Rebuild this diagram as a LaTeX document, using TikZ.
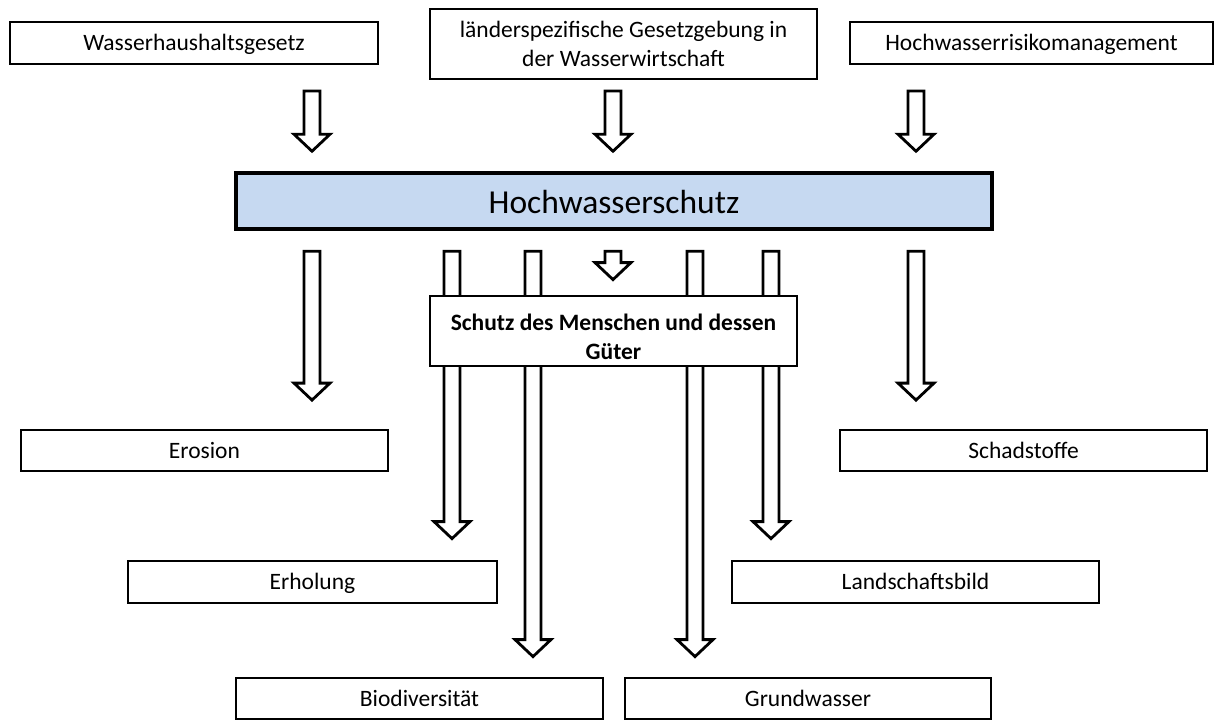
\documentclass[tikz,border=0pt]{standalone}
\usepackage{fontspec}
\setmainfont{Carlito}
\usetikzlibrary{calc}
\pgfdeclarelayer{bg}
\pgfsetlayers{bg,main}
\definecolor{hwsblue}{HTML}{C6D9F1}
\tikzset{
  box/.style={draw=black, line width=2.8pt, fill=white, inner sep=0pt,
    align=center, font=\fontsize{23.5}{28.5}\selectfont},
  onebox/.style={box, text height=18pt, text depth=3pt},
  mainbox/.style={box, line width=3.5pt, fill=hwsblue,
    text height=27pt, text depth=3pt, font=\fontsize{33.5}{40}\selectfont},
  barrow/.style={draw=black, fill=white, line width=2.8pt, line join=miter},
}
% hollow block arrow: column, source node, gap below source, target node, gap above target
\newcommand\blockarrow[5]{%
  \draw[barrow] let \p1=(#1), \p2=(#2.south), \p3=(#4.north),
    \n1={\y2-#3}, \n2={\y3+#5} in
    (\x1-8pt,\n1) -- (\x1-8pt,\n2+17pt) -- (\x1-18pt,\n2+17pt) -- (\x1,\n2)
    -- (\x1+18pt,\n2+17pt) -- (\x1+8pt,\n2+17pt) -- (\x1+8pt,\n1) -- cycle;
}
\begin{document}
\begin{tikzpicture}
\useasboundingbox (0,0) rectangle (1215pt,-720pt);

% legal framework
\node[onebox, minimum width=368pt, minimum height=42pt] (w) at (194pt,-43pt) {Wasserhaushaltsgesetz};
\node[box, minimum width=387pt, minimum height=70pt] (l) at (623.5pt,-44pt) {länderspezifische Gesetzgebung in\\der Wasserwirtschaft};
\node[onebox, minimum width=363pt, minimum height=42pt] (h) at (1031.5pt,-43pt) {Hochwasserrisikomanagement};

% central topic
\node[mainbox, minimum width=756pt, minimum height=56pt] (hws) at (614pt,-201pt) {Hochwasserschutz};

% goals and affected aspects
\node[box, minimum width=367pt, minimum height=70pt, font=\fontsize{23.5}{28.5}\selectfont\bfseries] (schutz) at (613.5pt,-331pt) {\rule{0pt}{28pt}Schutz des Menschen und dessen\\Güter};
\node[onebox, minimum width=367pt, minimum height=41pt] (erosion) at (204.5pt,-450.5pt) {Erosion};
\node[onebox, minimum width=367pt, minimum height=41pt] (schad) at (1023.5pt,-450.5pt) {Schadstoffe};
\node[onebox, minimum width=369pt, minimum height=42pt] (erh) at (312.5pt,-582pt) {Erholung};
\node[onebox, minimum width=367pt, minimum height=42pt] (land) at (915.5pt,-582pt) {Landschaftsbild};
\node[onebox, minimum width=367pt, minimum height=41pt] (bio) at (419.5pt,-698.5pt) {Biodiversität};
\node[onebox, minimum width=366pt, minimum height=41pt] (grund) at (808pt,-698.5pt) {Grundwasser};

% arrow columns
\coordinate (k1) at (312pt,0);
\coordinate (k2) at (613pt,0);
\coordinate (k3) at (916pt,0);
\coordinate (k4) at (452pt,0);
\coordinate (k5) at (533pt,0);
\coordinate (k6) at (695pt,0);
\coordinate (k7) at (771pt,0);

\begin{pgfonlayer}{bg}
  \blockarrow{k1}{w}{25.5pt}{hws}{20pt}
  \blockarrow{k2}{l}{10.5pt}{hws}{20pt}
  \blockarrow{k3}{h}{25.5pt}{hws}{20pt}
  \blockarrow{k1}{hws}{20.5pt}{erosion}{28.5pt}
  \blockarrow{k3}{hws}{20.5pt}{schad}{28.5pt}
  \blockarrow{k2}{hws}{20.5pt}{schutz}{15pt}
  \blockarrow{k4}{hws}{20.5pt}{erh}{21pt}
  \blockarrow{k7}{hws}{20.5pt}{land}{21pt}
  \blockarrow{k5}{hws}{20.5pt}{bio}{20pt}
  \blockarrow{k6}{hws}{20.5pt}{grund}{20pt}
\end{pgfonlayer}
\end{tikzpicture}
\end{document}
